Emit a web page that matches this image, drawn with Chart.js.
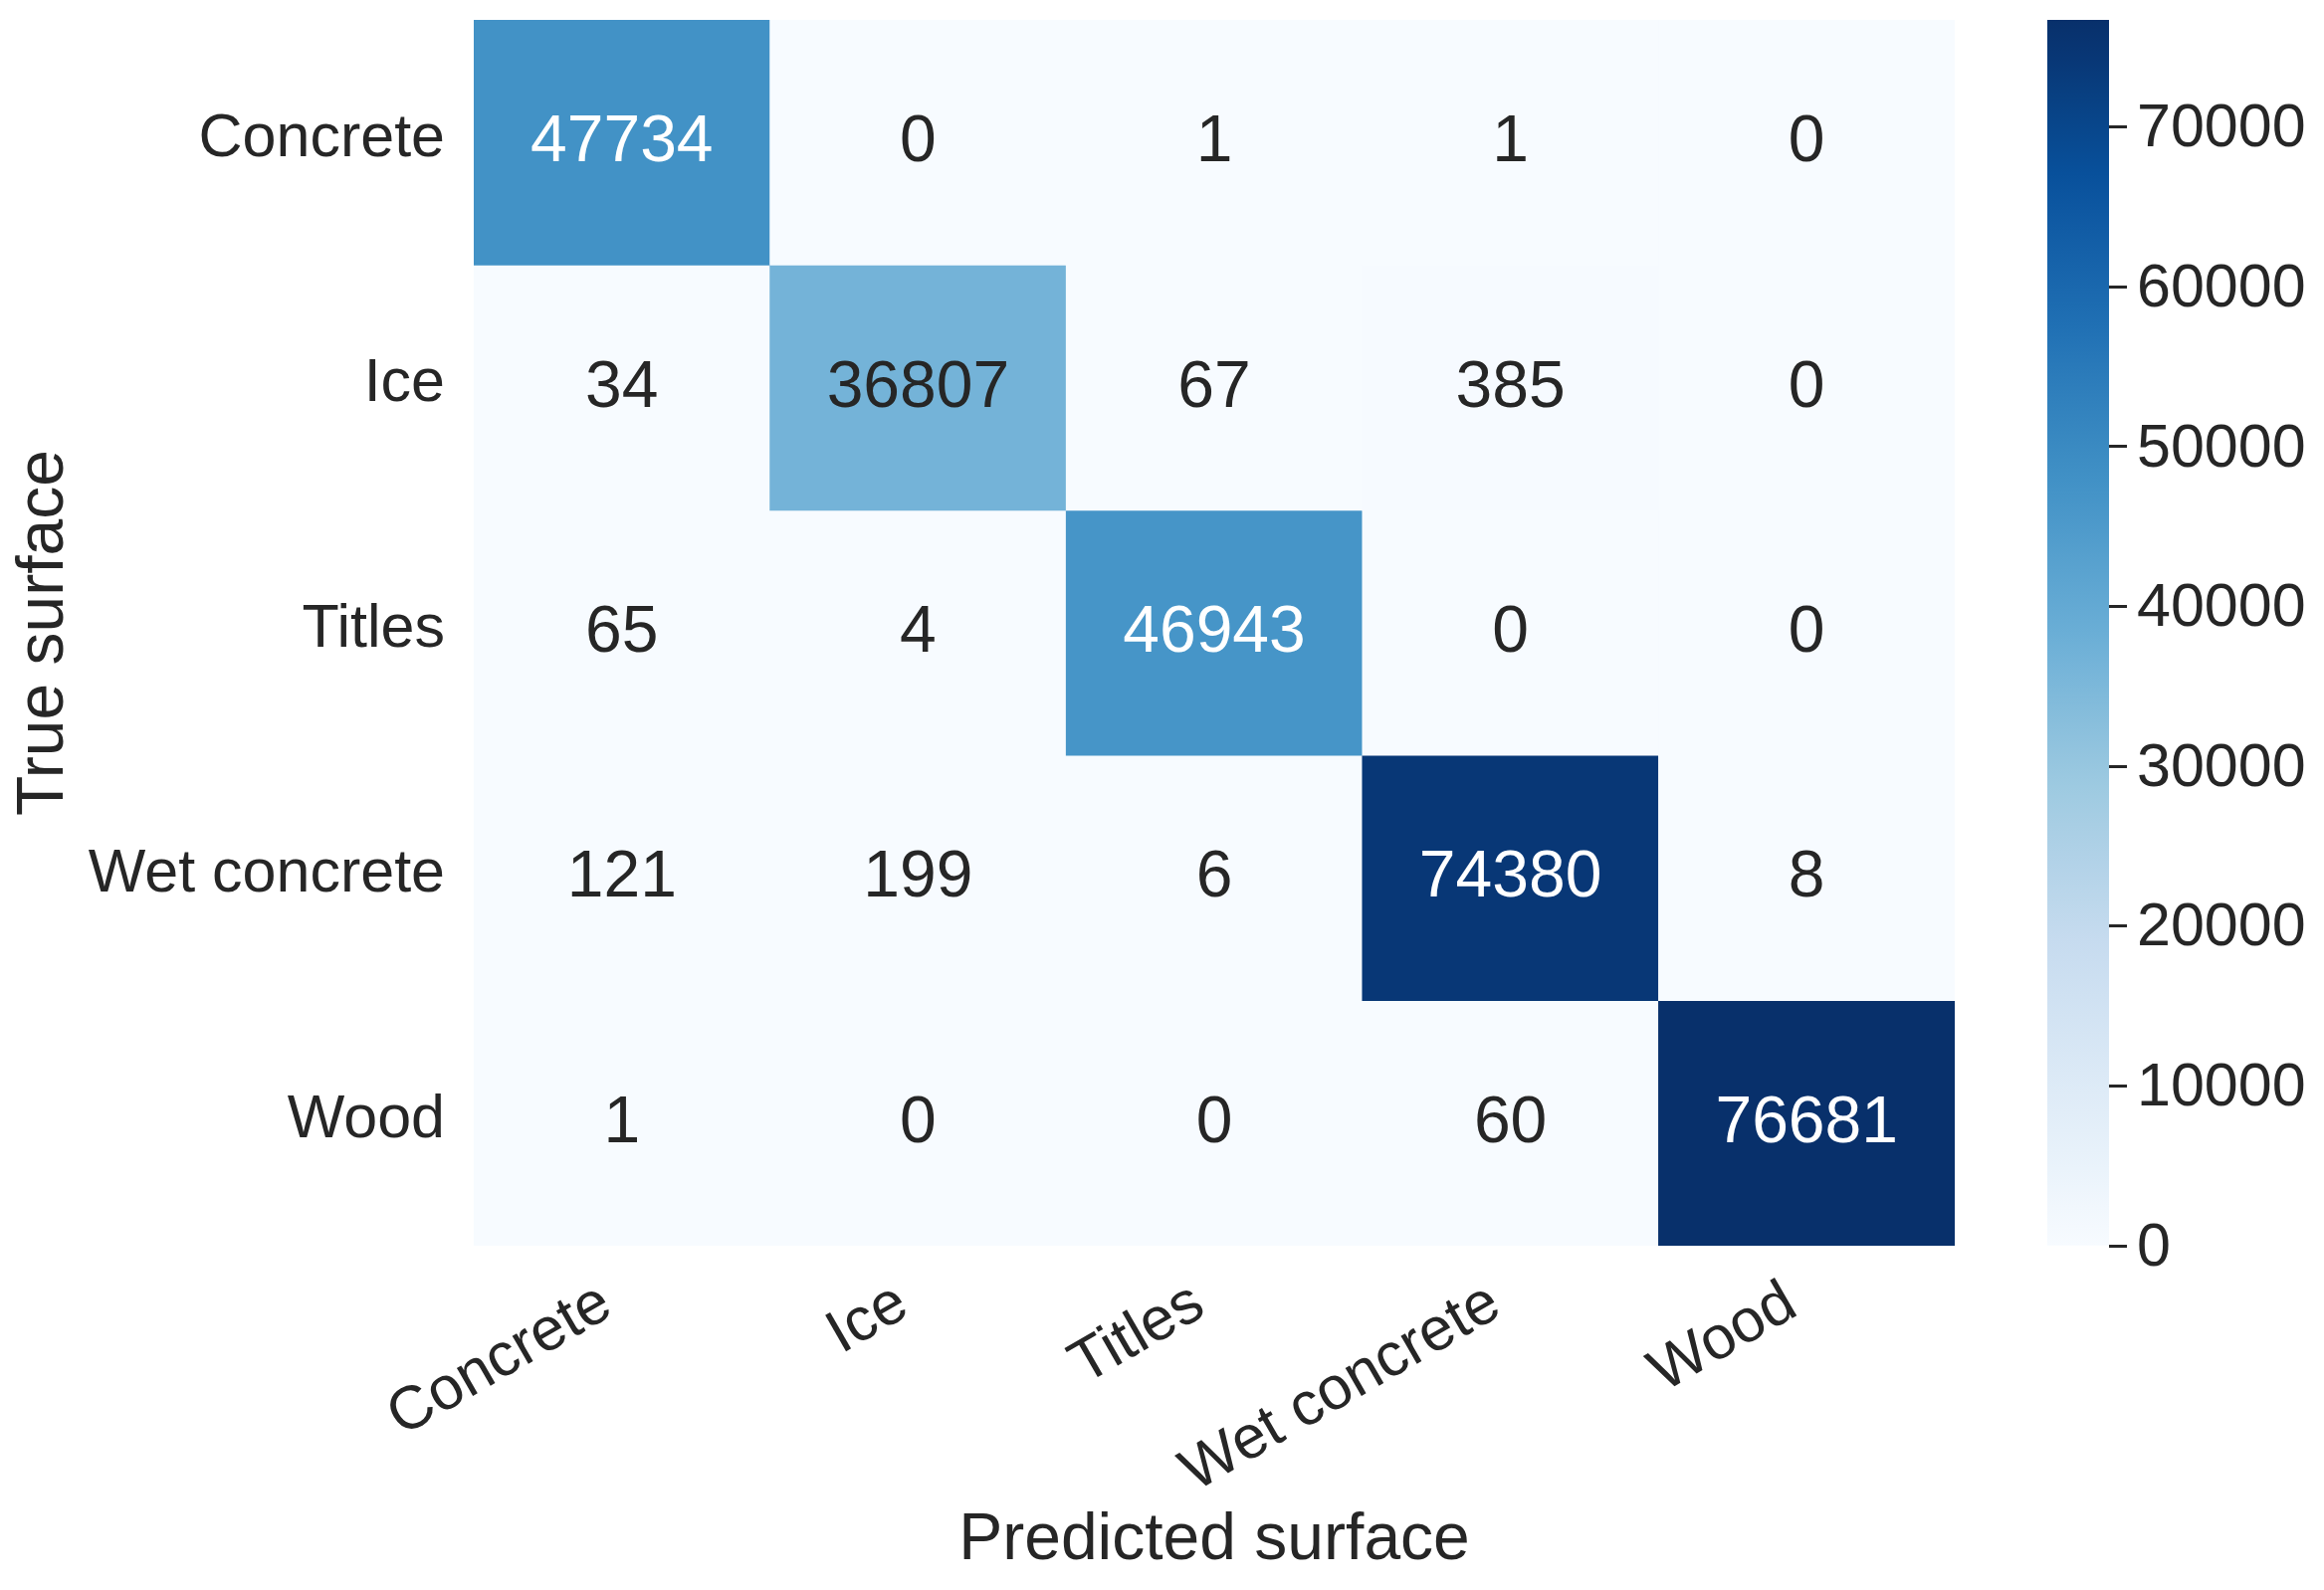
<!DOCTYPE html>
<html>
<head>
<meta charset="utf-8">
<script src="https://cdn.jsdelivr.net/npm/chart.js@4.4.0/dist/chart.umd.min.js"></script>
<style>
  body { margin: 0; background: #fff; }
  #wrap { position: relative; width: 2335px; height: 1598px; }
  #main { position: absolute; left: 0; top: 0; }
  #cbar { position: absolute; left: 1990px; top: 0; }
</style>
</head>
<body>
<div id="wrap">
  <canvas id="main" width="2335" height="1598"></canvas>
  <canvas id="cbar" width="345" height="1598"></canvas>
</div>
<script>
// confusion matrix, rows = true surface, columns = predicted surface
const predictedLabels = ['Concrete', 'Ice', 'Titles', 'Wet concrete', 'Wood'];
const trueLabels = ['Concrete', 'Ice', 'Titles', 'Wet concrete', 'Wood'];

const concreteRow = [47734, 0, 1, 1, 0];
const iceRow = [34, 36807, 67, 385, 0];
const titlesRow = [65, 4, 46943, 0, 0];
const wetConcreteRow = [121, 199, 6, 74380, 8];
const woodRow = [1, 0, 0, 60, 76681];

const colorbarTicks = [0, 10000, 20000, 30000, 40000, 50000, 60000, 70000];

const rows = [concreteRow, iceRow, titlesRow, wetConcreteRow, woodRow];
const vmax = Math.max(...rows.flat());

const FONT = "'Liberation Sans', Arial, sans-serif";
const TXT = '#262626';

// matplotlib "Blues"
const blues = [
  [247, 251, 255], [222, 235, 247], [198, 219, 239], [158, 202, 225],
  [107, 174, 214], [66, 146, 198], [33, 113, 181], [8, 81, 156], [8, 48, 107]
];
function bluesAt(t) {
  t = Math.min(1, Math.max(0, t));
  t = Math.min(255, Math.floor(t * 256)) / 255;
  const p = t * (blues.length - 1);
  const i = Math.min(blues.length - 2, Math.floor(p));
  const f = p - i;
  const c = blues[i].map((v, k) => Math.round(v + (blues[i + 1][k] - v) * f));
  return 'rgb(' + c.join(',') + ')';
}

function noPad(scale) {
  scale.paddingTop = 0;
  scale.paddingBottom = 0;
  scale.paddingLeft = 0;
  scale.paddingRight = 0;
}

const cellText = {
  id: 'cellText',
  afterDatasetsDraw(chart) {
    const ctx = chart.ctx;
    ctx.save();
    ctx.font = '66px ' + FONT;
    ctx.textAlign = 'center';
    ctx.textBaseline = 'alphabetic';
    rows.forEach((row, i) => {
      const meta = chart.getDatasetMeta(i);
      meta.data.forEach((bar, j) => {
        const v = row[j];
        const cy = (bar.y + bar.base) / 2;
        ctx.fillStyle = v / vmax > 0.55 ? '#ffffff' : TXT;
        ctx.fillText(String(v), bar.x, cy + 19);
      });
    });
    ctx.restore();
  }
};

new Chart(document.getElementById('main'), {
  type: 'bar',
  data: {
    labels: predictedLabels,
    datasets: rows.map((row, i) => ({
      label: trueLabels[i],
      data: row.map(() => [i, i + 1]),
      backgroundColor: row.map(v => bluesAt(v / vmax)),
      borderWidth: 0,
      grouped: false,
      barPercentage: 1,
      categoryPercentage: 1
    }))
  },
  options: {
    responsive: false,
    animation: false,
    layout: { padding: { top: 20, right: 371, left: 0, bottom: 0 } },
    plugins: { legend: { display: false }, tooltip: { enabled: false } },
    scales: {
      x: {
        type: 'category',
        grid: { display: false, drawTicks: false },
        border: { display: false },
        ticks: {
          color: TXT,
          font: { family: FONT, size: 61 },
          minRotation: 30,
          maxRotation: 30,
          padding: 22,
          labelOffset: -15,
          autoSkip: false
        },
        title: {
          display: true,
          text: 'Predicted surface',
          color: TXT,
          font: { family: FONT, size: 66 },
          padding: { top: 0, bottom: 10 }
        },
        afterFit(scale) { scale.height = 346; noPad(scale); }
      },
      y: {
        type: 'linear',
        min: 0,
        max: 5,
        reverse: true,
        grid: { display: false, drawTicks: false },
        border: { display: false },
        afterBuildTicks(scale) {
          scale.ticks = trueLabels.map((_, i) => ({ value: i + 0.5 }));
        },
        ticks: {
          color: TXT,
          font: { family: FONT, size: 61 },
          padding: 29,
          labelOffset: -3,
          callback: v => trueLabels[Math.floor(v)]
        },
        title: {
          display: true,
          text: 'True surface',
          color: TXT,
          font: { family: FONT, size: 66 },
          padding: { top: 5, bottom: 0 }
        },
        afterFit(scale) { scale.width = 476; noPad(scale); }
      }
    }
  },
  plugins: [cellText]
});

// colorbar
new Chart(document.getElementById('cbar'), {
  type: 'bar',
  data: {
    labels: ['scale'],
    datasets: [{
      data: [[0, vmax]],
      borderWidth: 0,
      barPercentage: 1,
      categoryPercentage: 1,
      backgroundColor(context) {
        const area = context.chart.chartArea;
        if (!area) return bluesAt(0.5);
        const g = context.chart.ctx.createLinearGradient(0, area.bottom, 0, area.top);
        for (let k = 0; k <= 32; k++) g.addColorStop(k / 32, bluesAt(k / 32));
        return g;
      }
    }]
  },
  options: {
    responsive: false,
    animation: false,
    layout: { padding: { top: 20, right: 0, left: 67, bottom: 346 } },
    plugins: { legend: { display: false }, tooltip: { enabled: false } },
    scales: {
      x: { display: false },
      y: {
        position: 'right',
        min: 0,
        max: vmax,
        border: { display: false },
        grid: {
          display: true,
          drawOnChartArea: false,
          drawTicks: true,
          tickLength: 18,
          tickWidth: 3,
          tickColor: TXT
        },
        afterBuildTicks(scale) {
          scale.ticks = colorbarTicks.map(v => ({ value: v }));
        },
        ticks: {
          color: TXT,
          font: { family: FONT, size: 61 },
          padding: 10,
          labelOffset: 3,
          callback: v => String(v)
        },
        afterFit(scale) { scale.width = 216; noPad(scale); }
      }
    }
  }
});
</script>
</body>
</html>
